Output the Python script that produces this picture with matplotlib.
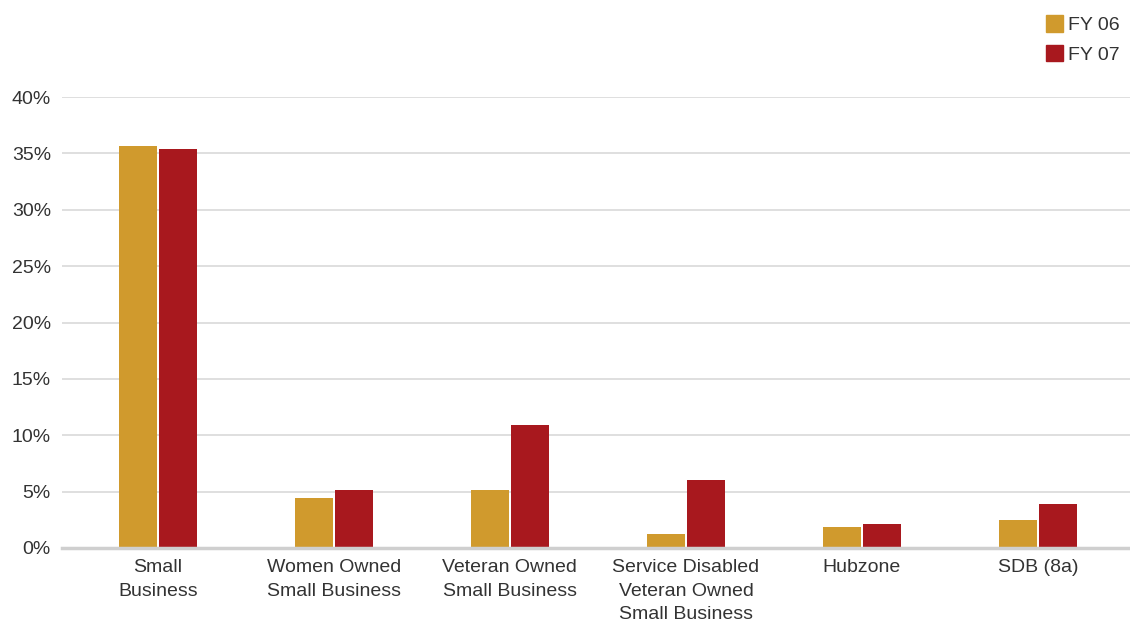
import matplotlib
matplotlib.use("Agg")
import matplotlib.pyplot as plt
import numpy as np
from matplotlib.patches import Patch

categories = ["Small\nBusiness", "Women Owned\nSmall Business", "Veteran Owned\nSmall Business",
              "Service Disabled\nVeteran Owned\nSmall Business", "Hubzone", "SDB (8a)"]
fy06 = [35.65, 4.4, 5.15, 1.25, 1.85, 2.45]
fy07 = [35.4, 5.15, 10.9, 6.05, 2.1, 3.9]
series_names = ["FY 06", "FY 07"]
yticks = [0, 5, 10, 15, 20, 25, 30, 35, 40]

c06 = "#D09A2D"
c07 = "#A8181E"

plt.rcParams['font.family'] = ['Liberation Sans', 'DejaVu Sans']
fig = plt.figure(figsize=(11.3, 6.24), dpi=100)
ax = fig.add_axes([62/1130, 1-548/624, 1-62/1130, (548-97)/624])

x = np.arange(len(categories))
w = 0.216
off = 0.114
ax.bar(x - off, fy06, width=w, color=c06, zorder=3)
ax.bar(x + off, fy07, width=w, color=c07, zorder=3)

ax.set_ylim(0, 40)
ax.set_xlim(-0.545, 5.523)
ax.set_yticks(yticks)
ax.set_yticklabels([f"{v}%" for v in yticks])
ax.set_xticks(x)
ax.set_xticklabels(categories, linespacing=1.5)
ax.tick_params(axis='both', length=0, labelsize=14, colors='#333333')
ax.tick_params(axis='y', pad=8)
ax.tick_params(axis='x', pad=8)
ax.yaxis.grid(True, color='#d9d9d9', linewidth=1.2, zorder=0)
for s in ['top', 'right', 'left']:
    ax.spines[s].set_visible(False)
ax.spines['bottom'].set_color('#cfcfcf')
ax.spines['bottom'].set_linewidth(2.5)
ax.spines['bottom'].set_zorder(4)

handles = [Patch(color=c06), Patch(color=c07)]
fig.legend(handles, series_names, loc='upper right', bbox_to_anchor=(1127/1130, 1-7/624),
           frameon=False, fontsize=14, handlelength=0.85, handleheight=0.95,
           handletextpad=0.25, labelspacing=0.55, borderaxespad=0, labelcolor='#333333')

fig.savefig("out.png", dpi=100)
